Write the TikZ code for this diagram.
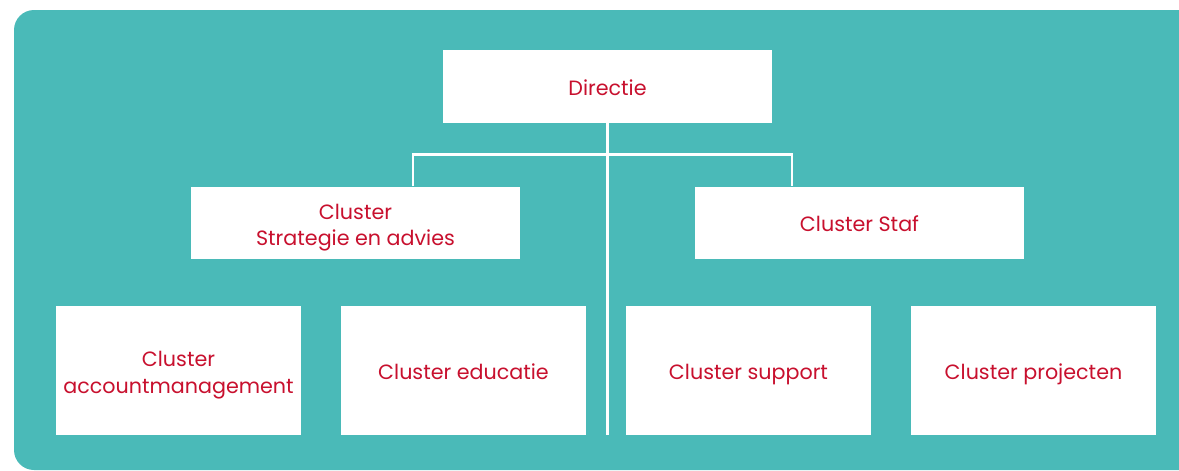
\documentclass[tikz,border=0pt]{standalone}
\usepackage{fontspec}
\setmainfont{Poppins}
\usetikzlibrary{positioning, calc}
\definecolor{orgteal}{HTML}{4ABAB8}
\definecolor{orgred}{HTML}{C8102E}

\begin{document}
\begin{tikzpicture}[x=0.75pt, y=-0.75pt,
	unit/.style={fill=white, text=orgred, align=center, inner sep=0pt,
		font=\fontsize{15.5}{20}\selectfont},
	one/.style={text height=12.9pt, text depth=0pt},
	two/.style={text height=38pt, text depth=4pt},
	top/.style={unit, minimum width=246.75pt, minimum height=54.5pt},
	leaf/.style={unit, minimum width=183.75pt, minimum height=96.75pt},
	link/.style={white, line width=1.9pt}]
	\useasboundingbox (0, 0) rectangle (1179, 471);
	\fill[orgteal, rounded corners=15pt] (14, 10) rectangle (1210, 470);
	% nodes
	\node[top, one] (dir) at (607.5, 86.5) {Directie};
	\node[top, two] (strat) at (355.5, 223) {Cluster\\Strategie en advies};
	\node[top, one] (staf) at (859.5, 223) {Cluster Staf};
	\node[leaf, two] (acc) at (178.5, 370.5) {Cluster\\accountmanagement};
	\node[leaf, one] (edu) at (463.5, 370.5) {Cluster educatie};
	\node[leaf, one] (sup) at (748.5, 370.5) {Cluster support};
	\node[leaf, one] (proj) at (1033.5, 370.5) {Cluster projecten};
	% connectors
	\coordinate (trunk) at (607, 435);
	\coordinate (sdrop) at ($(strat.north west)!0.675!(strat.north east)$);
	\coordinate (fdrop) at ($(staf.north west)!0.295!(staf.north east)$);
	\draw[link] (dir.south) -- (dir.south |- trunk);
	\draw[link] (sdrop) -- ++(0, -32) -| (fdrop);
\end{tikzpicture}
\end{document}
